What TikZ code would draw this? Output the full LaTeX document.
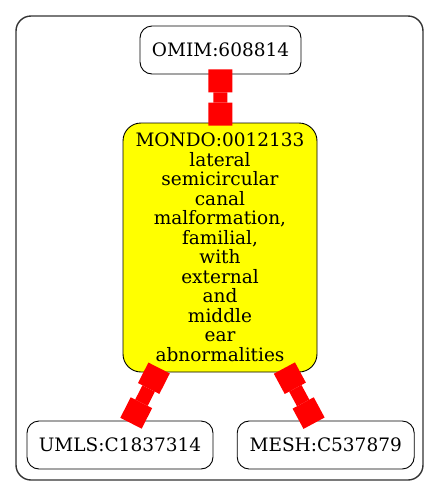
\documentclass[tikz,border=0pt]{standalone}
\usepackage{fontspec}
\setmainfont{DejaVu Serif}
\usetikzlibrary{arrows.meta}
\definecolor{nodeyellow}{RGB}{255,255,0}
\definecolor{linkred}{RGB}{255,0,0}
\begin{document}
\begin{tikzpicture}[x=1pt,y=-1pt,
  idbox/.style={draw=black,line width=0.9pt,rounded corners=12pt,minimum height=48pt,inner sep=0pt,
    font=\fontsize{18.5}{19.5}\selectfont},
  mainbox/.style={draw=black,line width=0.9pt,fill=nodeyellow,rounded corners=18pt,inner sep=0pt,
    align=center,font=\fontsize{18.5}{19.5}\selectfont},
  link/.style={draw=linkred,line width=14pt,
    {Rectangle[length=23pt,width=24pt,line width=0pt]}-{Rectangle[length=23pt,width=24pt,line width=0pt]},
    shorten <=-5pt,shorten >=-3pt}]
\useasboundingbox (0,0) rectangle (440,496);
\draw[line width=1.4pt,draw=black!80,rounded corners=15pt] (16,16) rectangle (423,480);
\node[idbox,minimum width=161pt] (omim) at (220.5,50) {OMIM:608814};
\node[mainbox,minimum width=194pt,minimum height=249pt] (mondo) at (220,247.5)
  {MONDO:0012133\\lateral\\semicircular\\canal\\malformation,\\familial,\\with\\external\\and\\middle\\ear\\abnormalities};
\node[idbox,minimum width=186pt] (umls) at (120,445) {UMLS:C1837314};
\node[idbox,minimum width=177pt] (mesh) at (325.7,445) {MESH:C537879};
\draw[link] (omim) -- (mondo);
\draw[link] (mondo) -- (umls);
\draw[link] (mondo) -- (mesh);
\end{tikzpicture}
\end{document}
